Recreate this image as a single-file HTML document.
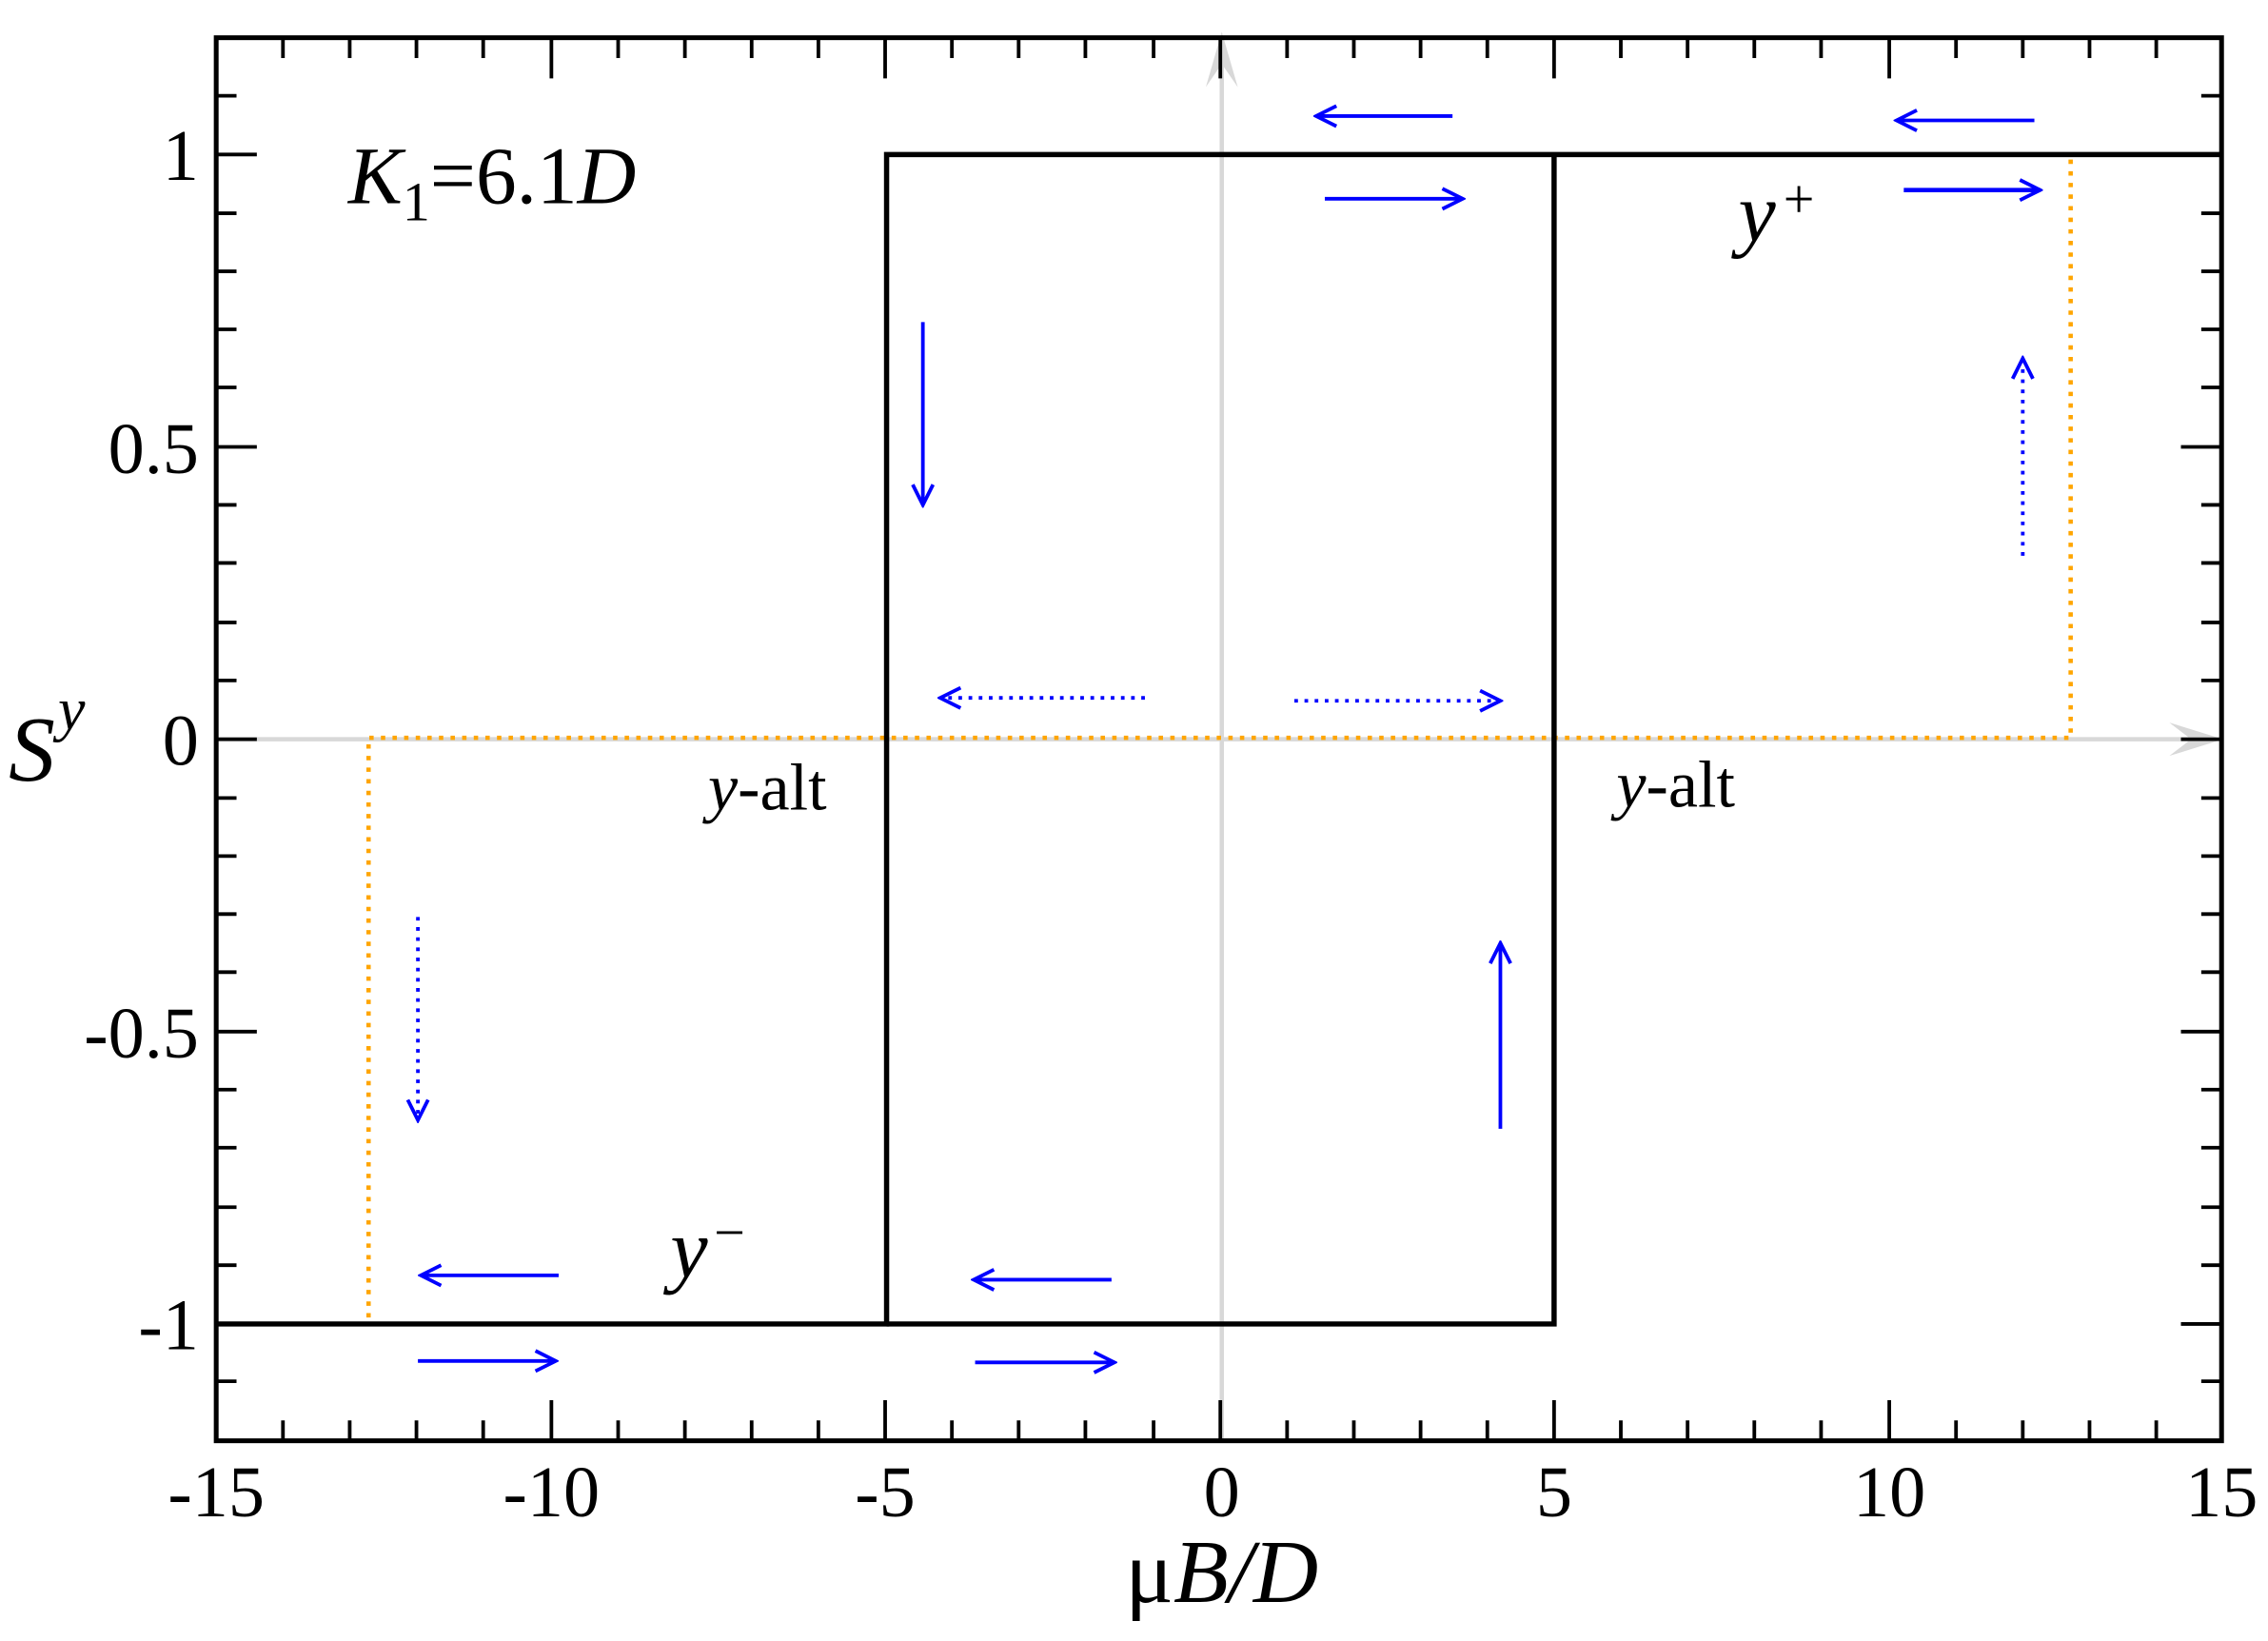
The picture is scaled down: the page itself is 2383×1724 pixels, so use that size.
<!DOCTYPE html>
<html><head><style>html,body{margin:0;padding:0;background:#fff}svg{display:block}</style></head>
<body>
<svg width="2383" height="1724" viewBox="0 0 1563 1131" preserveAspectRatio="none" xmlns="http://www.w3.org/2000/svg" font-family="Liberation Serif, serif">
<defs>
<marker id="ah" viewBox="0 0 20 20" refX="18" refY="10" markerWidth="20" markerHeight="20" markerUnits="userSpaceOnUse" orient="auto">
<path d="M4,3 L18,10 L4,17" fill="none" stroke="#0000ff" stroke-width="2.5"/>
</marker>
</defs>
<line x1="842" y1="993" x2="842" y2="28" stroke="#d8d8d8" stroke-width="3"/>
<path d="M842,22 L831,60 L842,44 L853,60 Z" fill="#d8d8d8"/>
<line x1="149" y1="509.5" x2="1525" y2="509.5" stroke="#d8d8d8" stroke-width="3"/>
<path d="M1532,509.5 L1495,498 L1510,509.5 L1495,521 Z" fill="#d8d8d8"/>
<g stroke="#ffa500" stroke-width="3" stroke-dasharray="3,5" fill="none">
<path d="M254,908 L254,508.5 L1427,508.5 L1427,106"/>
</g>
<g stroke="#000" stroke-width="3.6" fill="none">
<path d="M149,912.5 L611,912.5 L611,106.5 L1531,106.5"/>
<path d="M611,912.5 L1071,912.5 L1071,106.5"/>
</g>
<rect x="149" y="26" width="1382" height="967" fill="none" stroke="#000" stroke-width="3.3"/>
<g stroke="#000" stroke-width="2.5">
<path d="M195,993v-14M241,993v-14M287,993v-14M333,993v-14M380,993v-28M426,993v-14M472,993v-14M518,993v-14M564,993v-14M610,993v-28M656,993v-14M702,993v-14M748,993v-14M795,993v-14M841,993v-28M887,993v-14M933,993v-14M979,993v-14M1025,993v-14M1071,993v-28M1117,993v-14M1163,993v-14M1209,993v-14M1255,993v-14M1302,993v-28M1348,993v-14M1394,993v-14M1440,993v-14M1486,993v-14"/>
<path d="M195,26v14M241,26v14M287,26v14M333,26v14M380,26v28M426,26v14M472,26v14M518,26v14M564,26v14M610,26v28M656,26v14M702,26v14M748,26v14M795,26v14M841,26v28M887,26v14M933,26v14M979,26v14M1025,26v14M1071,26v28M1117,26v14M1163,26v14M1209,26v14M1255,26v14M1302,26v28M1348,26v14M1394,26v14M1440,26v14M1486,26v14"/>
<path d="M149,952h14M149,912.5h28M149,872h14M149,832h14M149,791h14M149,751h14M149,711h28M149,670h14M149,630h14M149,590h14M149,550h14M149,509.5h28M149,469h14M149,429h14M149,388h14M149,348h14M149,308h28M149,267h14M149,227h14M149,187h14M149,147h14M149,106.5h28M149,66h14"/>
<path d="M1531,952h-14M1531,912.5h-28M1531,872h-14M1531,832h-14M1531,791h-14M1531,751h-14M1531,711h-28M1531,670h-14M1531,630h-14M1531,590h-14M1531,550h-14M1531,509.5h-28M1531,469h-14M1531,429h-14M1531,388h-14M1531,348h-14M1531,308h-28M1531,267h-14M1531,227h-14M1531,187h-14M1531,147h-14M1531,106.5h-28M1531,66h-14"/>
</g>
<g font-size="50" fill="#000">
<g text-anchor="middle">
<text x="149" y="1045">-15</text><text x="380" y="1045">-10</text><text x="610" y="1045">-5</text><text x="842" y="1045">0</text><text x="1071" y="1045">5</text><text x="1302" y="1045">10</text><text x="1531" y="1045">15</text>
</g>
<g text-anchor="end">
<text x="137" y="124">1</text><text x="137" y="326">0.5</text><text x="137" y="527">0</text><text x="137" y="729">-0.5</text><text x="137" y="930">-1</text>
</g>
</g>
<text x="842" y="1104" font-size="62" text-anchor="middle">μ<tspan font-style="italic">B/D</tspan></text>
<text x="6" y="538" font-size="64" font-style="italic">S</text><text x="40" y="503" font-size="42" font-style="italic">y</text>
<text x="240" y="140" font-size="56"><tspan font-style="italic">K</tspan><tspan font-size="38" dy="12">1</tspan><tspan dy="-12">=6.1</tspan><tspan font-style="italic">D</tspan></text>
<text x="1198" y="166" font-size="58" font-style="italic">y</text><text x="1229" y="150" font-size="38">+</text>
<text x="462" y="880" font-size="58" font-style="italic">y</text><text x="492" y="862" font-size="38">−</text>
<text x="488" y="558" font-size="46"><tspan font-style="italic">y</tspan>-alt</text>
<text x="1114" y="556" font-size="46"><tspan font-style="italic">y</tspan>-alt</text>
<g stroke="#0000ff" stroke-width="2.5" fill="none" marker-end="url(#ah)">
<line x1="1001" y1="80" x2="907" y2="80"/>
<line x1="913" y1="137" x2="1008" y2="137"/>
<line x1="1402" y1="83" x2="1307" y2="83"/>
<line x1="1312" y1="131" x2="1406" y2="131" stroke-width="3"/>
<line x1="636" y1="222" x2="636" y2="348"/>
<line x1="1034" y1="778" x2="1034" y2="650"/>
<line x1="385" y1="879" x2="290" y2="879"/>
<line x1="288" y1="938" x2="383" y2="938"/>
<line x1="766" y1="882" x2="671" y2="882"/>
<line x1="672" y1="939" x2="768" y2="939"/>
</g>
<g stroke="#0000ff" stroke-width="2.5" fill="none" stroke-dasharray="2.5,4.5" marker-end="url(#ah)">
<line x1="1394" y1="383" x2="1394" y2="247"/>
<line x1="789" y1="481" x2="648" y2="481"/>
<line x1="892" y1="483" x2="1034" y2="483"/>
<line x1="288" y1="632" x2="288" y2="772"/>
</g>
</svg>
</body></html>
